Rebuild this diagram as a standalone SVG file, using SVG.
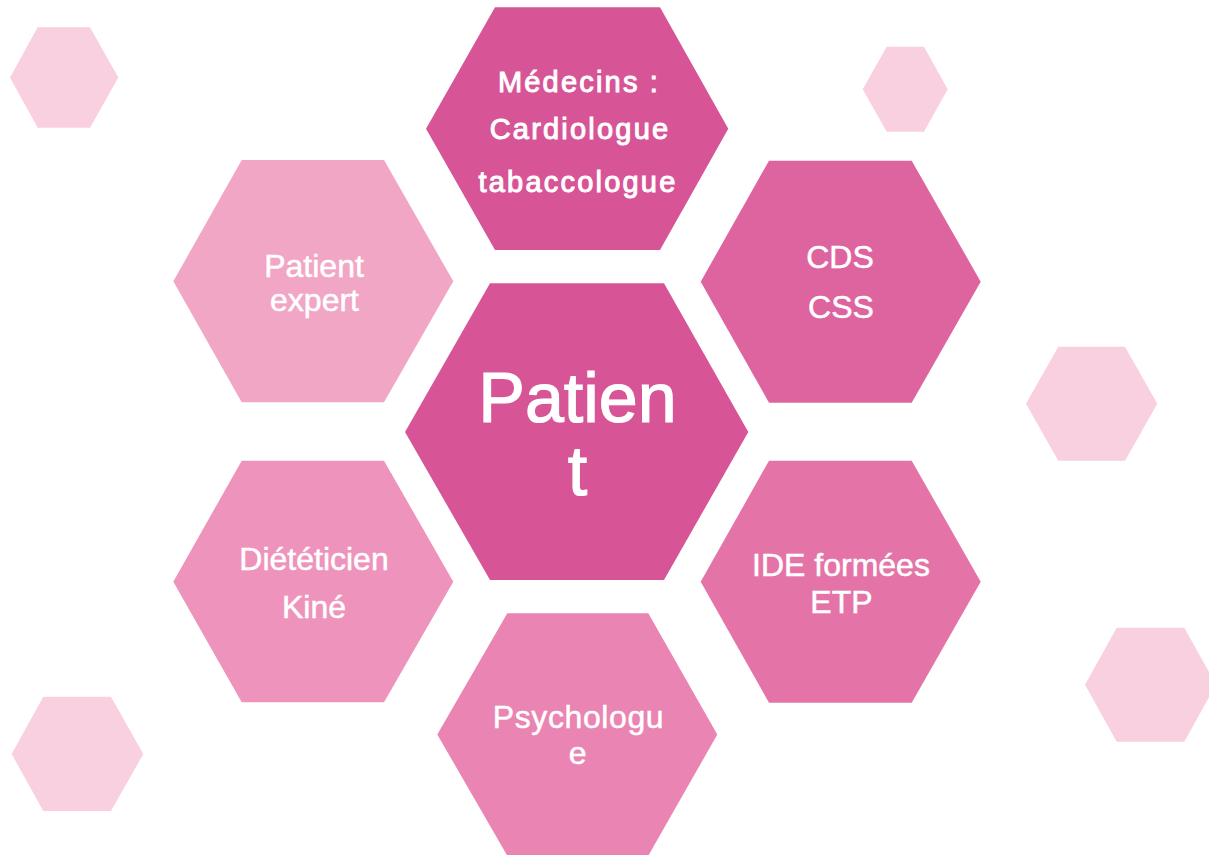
<svg xmlns="http://www.w3.org/2000/svg" width="1209" height="855" viewBox="0 0 1209 855">
<style>
  text { font-family: "Liberation Sans", Arial, sans-serif; fill: #ffffff; stroke: #ffffff; text-anchor: middle; }
  .lbl { font-size: 32px; stroke-width: 0.5px; }
  .big { font-size: 70px; stroke-width: 1.2px; }
  .med { font-size: 29px; letter-spacing: 2.2px; stroke-width: 1px; }
  .c1 { fill: #D75597; }
  .c2 { fill: #DE64A0; }
  .c3 { fill: #E474A7; }
  .c4 { fill: #EA84B2; }
  .c5 { fill: #EE94BC; }
  .c6 { fill: #F2A6C6; }
  .deco { fill: #F9D0E0; }
</style>
<rect width="1209" height="855" fill="#ffffff"/>
<g id="decorations">
  <polygon class="deco" points="10,77.5 37.7,27.3 90,27.3 118.3,77.5 90,127.7 37.7,127.7"/>
  <polygon class="deco" points="862.7,89.3 886.7,46.7 924,46.7 947.7,89.3 924,131.7 886.7,131.7"/>
  <polygon class="deco" points="1026,403.7 1058.3,346.7 1125,346.7 1157.3,403.7 1125,460.7 1058.3,460.7"/>
  <polygon class="deco" points="1085,684.7 1116.7,627.7 1184.3,627.7 1216,684.7 1184.3,741.7 1116.7,741.7"/>
  <polygon class="deco" points="11.7,754 43.3,696.7 111,696.7 143.3,754 111,811 43.3,811"/>
</g>
<g id="connectors"></g>
<g id="node-medecins">
  <polygon class="c1" points="426,128.7 495,7.3 660,7.3 728.3,128.7 660,250 495,250"/>
  <text class="med" x="579" y="91.7">Médecins :</text>
  <text class="med" x="580" y="139.3">Cardiologue</text>
  <text class="med" x="578" y="191.7">tabaccologue</text>
</g>
<g id="node-patient-expert">
  <polygon class="c6" points="173.3,281.3 241.7,160 384,160 453.3,281.3 384,402.3 241.7,402.3"/>
  <text class="lbl" x="314" y="277">Patient</text>
  <text class="lbl" x="314.5" y="311">expert</text>
</g>
<g id="node-cds">
  <polygon class="c2" points="700.7,281.7 769,160.7 911.7,160.7 980.7,281.7 911.7,402.7 769,402.7"/>
  <text class="lbl" x="840" y="268.3">CDS</text>
  <text class="lbl" x="841" y="318.3">CSS</text>
</g>
<g id="node-patient">
  <polygon class="c1" points="405,432 490,283.3 664,283.3 748.3,432 664,580 490,580"/>
  <text class="big" x="577.5" y="422">Patien</text>
  <text class="big" x="577.5" y="495">t</text>
</g>
<g id="node-dieteticien">
  <polygon class="c5" points="173.3,581.7 241.7,460.7 384,460.7 453.3,581.7 384,702.3 241.7,702.3"/>
  <text class="lbl" x="314" y="570">Diététicien</text>
  <text class="lbl" x="314" y="618.3">Kiné</text>
</g>
<g id="node-ide">
  <polygon class="c3" points="700.7,581.7 769,460.7 911.7,460.7 980.7,581.7 911.7,702.7 769,702.7"/>
  <text class="lbl" x="841" y="576">IDE formées</text>
  <text class="lbl" x="841.4" y="612.7">ETP</text>
</g>
<g id="node-psychologue">
  <polygon class="c4" points="437.3,734.5 507.3,613.3 648.3,613.3 717.3,734.5 648.3,855.7 507.3,855.7"/>
  <text class="lbl" x="578.5" y="728.3" style="letter-spacing:0.6px">Psychologu</text>
  <text class="lbl" x="577.7" y="764.3">e</text>
</g>
</svg>
